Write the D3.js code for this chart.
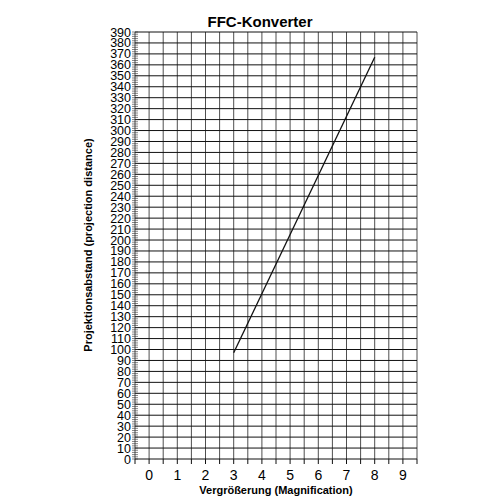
<!DOCTYPE html>
<html><head><meta charset="utf-8">
<script src="https://cdn.jsdelivr.net/npm/d3@7"></script>
<style>body{margin:0;background:#fff}text{font-family:"Liberation Sans",Arial,sans-serif}</style>
</head><body><svg width="500" height="500"></svg>
<script>
var magnification = [3, 8];
var distance = [97, 367];
var xTicks = [0, 1, 2, 3, 4, 5, 6, 7, 8, 9];
var yTicks = d3.range(0, 400, 10);

var svg = d3.select("svg");
var pLeft = 135, pRight = 417, pTop = 32, pBottom = 459;
var x = d3.scaleLinear().domain([-0.5, 9.5]).range([pLeft, pRight]);
var y = d3.scaleLinear().domain([0, 390]).range([pBottom, pTop]);

// grid
svg.append("g").selectAll("line").data(d3.range(-0.5, 9.51, 0.5)).enter().append("line")
  .attr("x1", d => x(d)).attr("x2", d => x(d)).attr("y1", pTop).attr("y2", pBottom)
  .attr("stroke", "#222").attr("stroke-width", 0.8);
svg.append("g").selectAll("line").data(yTicks).enter().append("line")
  .attr("x1", pLeft).attr("x2", pRight).attr("y1", d => y(d)).attr("y2", d => y(d))
  .attr("stroke", "#111").attr("stroke-width", 1);

// minor y ticks
svg.append("g").selectAll("line").data(d3.range(0, 391, 2)).enter().append("line")
  .attr("x1", pLeft - 3).attr("x2", pLeft + 3).attr("y1", d => y(d)).attr("y2", d => y(d))
  .attr("stroke", "#333").attr("stroke-width", 0.6);
// bottom ticks
svg.append("g").selectAll("line").data(d3.range(-0.5, 9.51, 0.5)).enter().append("line")
  .attr("x1", d => x(d)).attr("x2", d => x(d)).attr("y1", pBottom).attr("y2", pBottom + 5)
  .attr("stroke", "#111");

svg.append("g").selectAll("text").data(yTicks).enter().append("text")
  .attr("x", pLeft - 4).attr("y", d => y(d) + 4.5).attr("text-anchor", "end")
  .attr("font-size", 12.5).text(d => d);
svg.append("g").selectAll("text").data(xTicks).enter().append("text")
  .attr("x", d => x(d)).attr("y", pBottom + 21).attr("text-anchor", "middle")
  .attr("font-size", 14).text(d => d);

svg.append("path").datum(magnification.map((m, i) => [m, distance[i]]))
  .attr("d", d3.line().x(d => x(d[0])).y(d => y(d[1])))
  .attr("fill", "none").attr("stroke", "#111").attr("stroke-width", 1.3);

svg.append("text").attr("x", 260).attr("y", 27).attr("text-anchor", "middle")
  .attr("font-size", 15).attr("font-weight", "bold").text("FFC-Konverter");
svg.append("text").attr("x", 276).attr("y", 494).attr("text-anchor", "middle")
  .attr("font-size", 11).attr("font-weight", "bold").text("Vergrößerung (Magnification)");
svg.append("text").attr("transform", "translate(92,245) rotate(-90)").attr("text-anchor", "middle")
  .attr("font-size", 11).attr("font-weight", "bold").text("Projektionsabstand (projection distance)");
</script></body></html>
